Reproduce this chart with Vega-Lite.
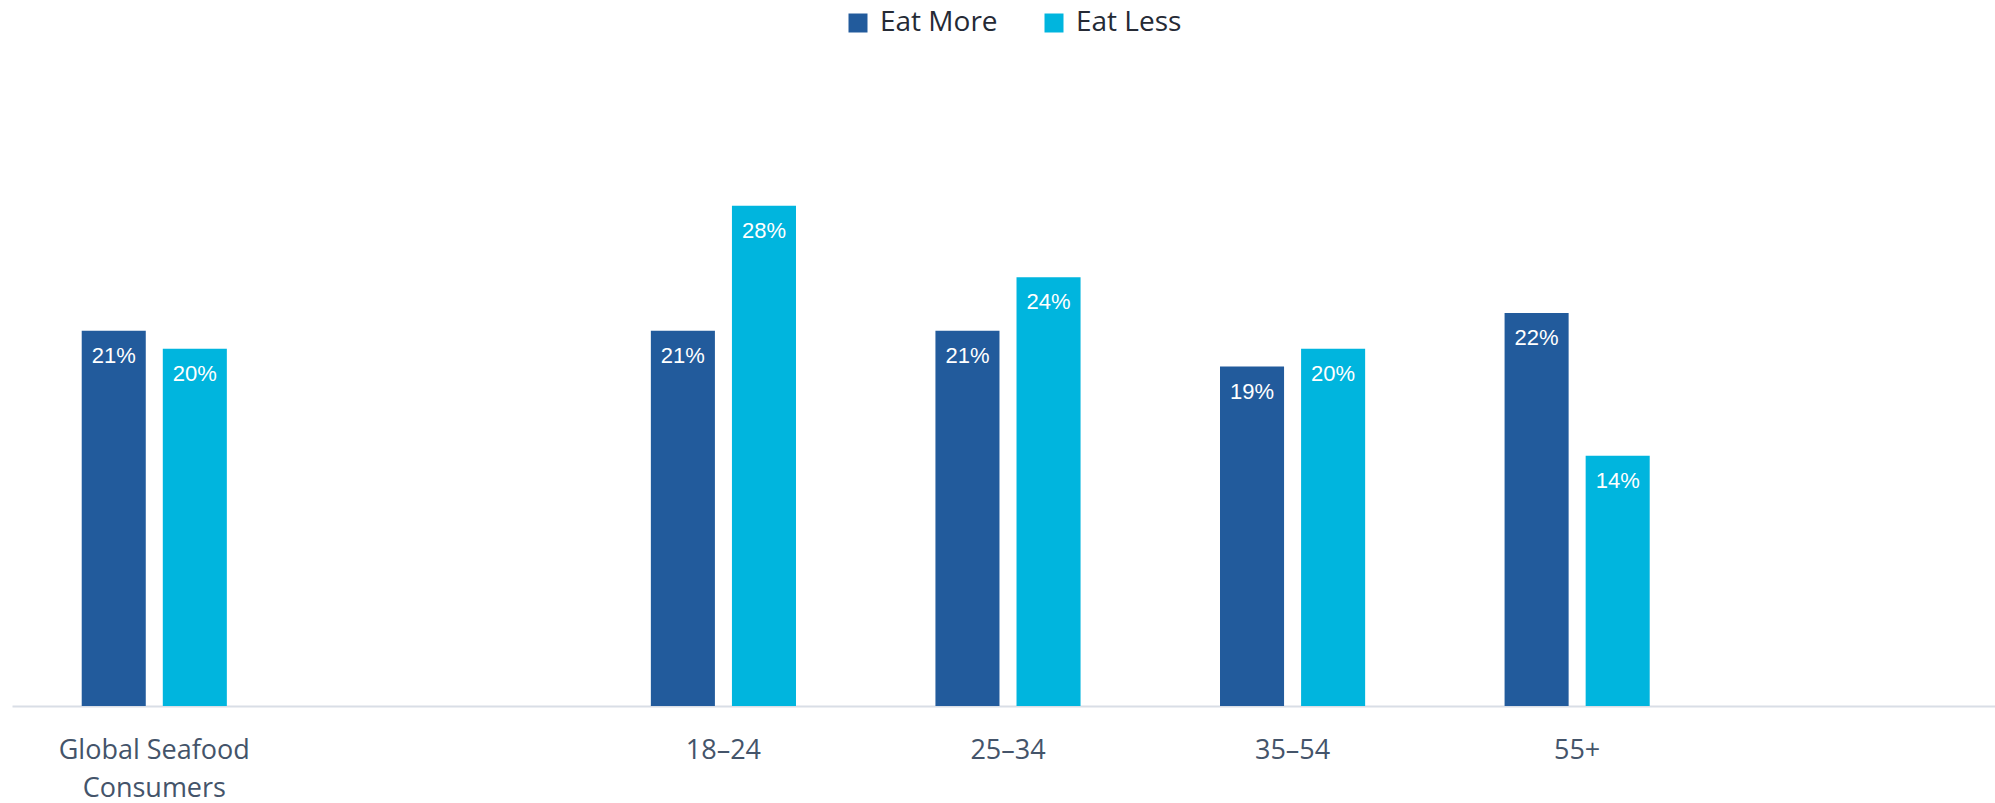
{
  "$schema": "https://vega.github.io/schema/vega-lite/v6.json",
  "autosize": {"type": "none"},
  "width": 1983,
  "height": 536,
  "padding": {"left": 12, "top": 170, "right": 0, "bottom": 97},
  "background": "white",
  "config": {"view": {"stroke": null}},
  "data": {"values": [
    {"group": "Global Seafood Consumers", "series": "Eat More", "value": 0.21},
    {"group": "Global Seafood Consumers", "series": "Eat Less", "value": 0.20},
    {"group": "18–24", "series": "Eat More", "value": 0.21},
    {"group": "18–24", "series": "Eat Less", "value": 0.28},
    {"group": "25–34", "series": "Eat More", "value": 0.21},
    {"group": "25–34", "series": "Eat Less", "value": 0.24},
    {"group": "35–54", "series": "Eat More", "value": 0.19},
    {"group": "35–54", "series": "Eat Less", "value": 0.20},
    {"group": "55+", "series": "Eat More", "value": 0.22},
    {"group": "55+", "series": "Eat Less", "value": 0.14}
  ]},
  "encoding": {
    "x": {
      "field": "group", "type": "nominal",
      "scale": {"domain": ["Global Seafood Consumers", " ", "18–24", "25–34", "35–54", "55+", "  "], "range": [0, 1992], "paddingInner": 0.49, "paddingOuter": 0.245},
      "axis": {
        "title": null, "labelAngle": 0, "ticks": false,
        "domainColor": "#d9dee6", "domainWidth": 2,
        "labelFont": "Open Sans", "labelFontSize": 27, "labelColor": "#44546a",
        "labelPadding": 31, "labelLineHeight": 38, "labelLimit": 0,
        "labelExpr": "datum.value == 'Global Seafood Consumers' ? ['Global Seafood', 'Consumers'] : datum.value"
      }
    },
    "xOffset": {"field": "series", "type": "nominal", "sort": ["Eat More", "Eat Less"], "scale": {"paddingInner": 0.21, "paddingOuter": 0}},
    "y": {"field": "value", "type": "quantitative", "scale": {"domain": [0, 0.3]}, "axis": null}
  },
  "layer": [
    {
      "mark": {"type": "bar"},
      "encoding": {
        "color": {
          "field": "series", "type": "nominal", "sort": ["Eat More", "Eat Less"],
          "scale": {"domain": ["Eat More", "Eat Less"], "range": ["#225b9c", "#00b5de"]},
          "legend": {
            "title": null, "orient": "none", "direction": "horizontal",
            "legendX": 832, "legendY": -161,
            "symbolType": "square", "symbolSize": 361, "symbolStrokeWidth": 0, "symbolOpacity": 1,
            "labelFont": "Open Sans", "labelFontSize": 28, "labelColor": "#252a35",
            "labelOffset": 8, "columnPadding": 42, "labelLimit": 0
          }
        }
      }
    },
    {
      "mark": {"type": "text", "baseline": "alphabetic", "dy": 32, "font": "Liberation Sans", "fontSize": 22, "color": "white"},
      "encoding": {"text": {"field": "value", "type": "quantitative", "format": ".0%"}, "detail": {"field": "series"}}
    }
  ]
}
